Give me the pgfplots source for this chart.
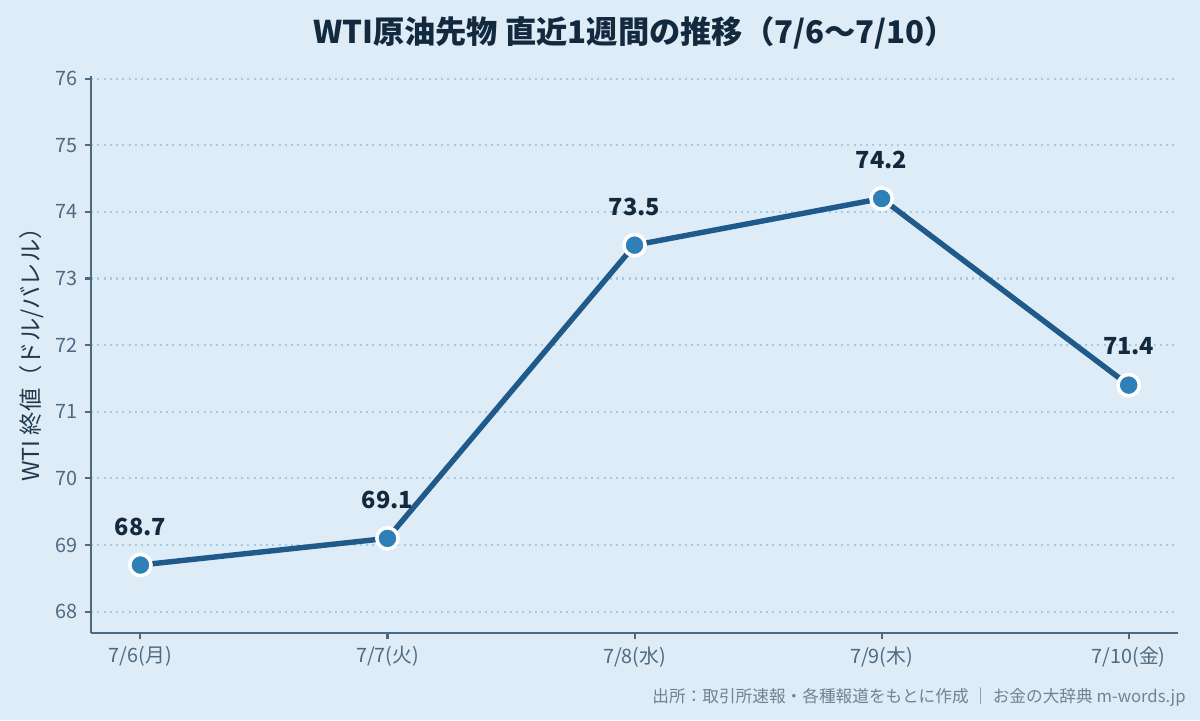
\documentclass[border=0pt]{standalone}
\usepackage{fontspec}
\setmainfont{Noto Sans CJK JP}
\usepackage{pgfplots}
\pgfplotsset{compat=1.18}
\definecolor{bg}{HTML}{DDECF7}
\definecolor{linec}{HTML}{1F5A8A}
\definecolor{markc}{HTML}{2E80B8}
\definecolor{gridc}{HTML}{A3CBE2}
\definecolor{axisc}{HTML}{4D6A83}
\definecolor{titlec}{HTML}{13293D}
\definecolor{tickc}{HTML}{4E6A82}
\definecolor{srcc}{HTML}{6F8394}
\begin{document}
\begin{tikzpicture}
\fill[bg] (0,0) rectangle (576pt,345.6pt);
\begin{axis}[
  at={(43.68pt,41.76pt)}, anchor=south west,
  scale only axis, width=521.8pt, height=267.4pt,
  xmin=-0.2, xmax=4.2, ymin=67.68, ymax=76.04,
  axis x line*=bottom, axis y line*=left,
  axis line style={axisc, line width=1pt},
  xtick={0,1,2,3,4},
  xticklabels={7/6(月),7/7(火),7/8(水),7/9(木),7/10(金)},
  ytick={68,69,...,76},
  tick style={axisc, line width=1pt},
  tick align=outside, major tick length=3pt,
  ticklabel style={font=\fontsize{9.5}{10}\selectfont, text=tickc},
  /pgf/number format/assume math mode=true,
  ymajorgrids, grid style={gridc, line width=1pt, dash pattern=on 1pt off 2pt},
  ylabel={WTI 終値（ドル/バレル）},
  ylabel style={at={(axis description cs:-0.0543,0.51)}, anchor=center, font=\fontsize{11.2}{12}\selectfont, text=titlec!75!tickc},
  clip=false,
  nodes near coords,
  every node near coord/.append style={font=\bfseries\fontsize{11.3}{12}\selectfont, text=titlec, anchor=center, yshift=18.5pt},
  point meta=explicit symbolic,
]
\addplot[linec, line width=2.6pt, mark=*, mark size=5.1pt, mark options={fill=markc, draw=white, line width=1.7pt}]
  coordinates {(0,68.7)[68.7] (1,69.1)[69.1] (2,73.5)[73.5] (3,74.2)[74.2] (4,71.4)[71.4]};
\end{axis}
\node[font=\bfseries\fontsize{15}{16}\selectfont, text=titlec] at (304.6pt,329.8pt) {WTI原油先物 直近1週間の推移（7/6〜7/10）};
\node[font=\fontsize{8}{9}\selectfont, text=srcc, anchor=east, inner sep=0pt] at (569.3pt,11pt) {出所：取引所速報・各種報道をもとに作成 ｜ お金の大辞典 m-words.jp};
\pgfresetboundingbox
\path (0,0) rectangle (576pt,345.6pt);
\end{tikzpicture}
\end{document}
